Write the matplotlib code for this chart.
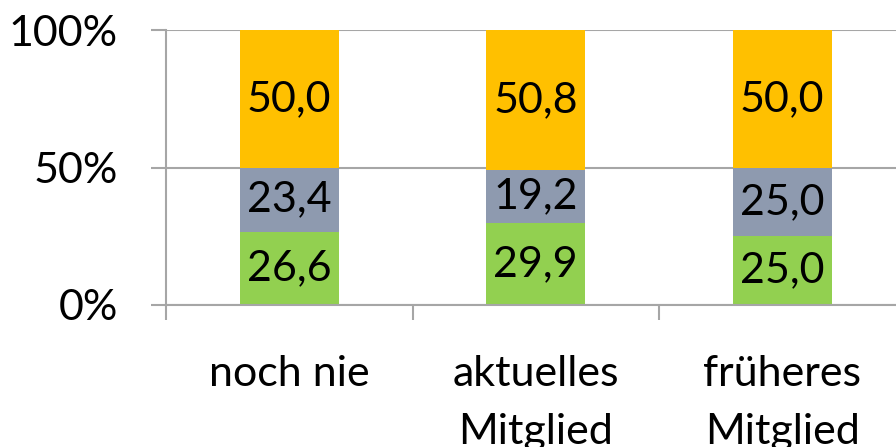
import numpy as np
import matplotlib
matplotlib.use("Agg")
import matplotlib.pyplot as plt

# Data (shares in %)
categories = ["noch nie", "aktuelles\nMitglied", "früheres\nMitglied"]
green_vals = [26.6, 29.9, 25.0]
gray_vals = [23.4, 19.2, 25.0]
orange_vals = [50.0, 50.8, 50.0]
ytick_vals = [0, 50, 100]
ytick_labels = ["0%", "50%", "100%"]

GREEN = "#92D050"
GRAY = "#8E9AAF"
ORANGE = "#FFC000"
GRID = "#A6A6A6"

plt.rcParams["font.family"] = ["Lato", "DejaVu Sans"]
FS = 31

fig = plt.figure(figsize=(8.96, 4.47), dpi=100)
ax = fig.add_axes([166 / 896, 142 / 447, 739.5 / 896, 275 / 447])

x = np.arange(len(categories))
series = [np.array(green_vals), np.array(gray_vals), np.array(orange_vals)]
total = sum(series)
colors = [GREEN, GRAY, ORANGE]

bottom = np.zeros(len(categories))
for vals, col in zip(series, colors):
    h = vals / total * 100  # 100% stacked
    ax.bar(x, h, 0.4, bottom=bottom, color=col, edgecolor="none", zorder=2)
    for xi, b, hi, v in zip(x, bottom, h, vals):
        ax.text(xi, b + hi / 2, f"{v:.1f}".replace(".", ","), ha="center",
                va="center", fontsize=FS, color="black", zorder=3)
    bottom = bottom + h

ax.set_xlim(-0.5, 2.5)
ax.set_ylim(0, 100)

ax.set_yticks(ytick_vals)
ax.set_yticklabels(ytick_labels, fontsize=FS)
ax.yaxis.grid(True, color=GRID, linewidth=1.5, zorder=0)
ax.tick_params(axis="y", length=10.8, width=1.5, color=GRID, pad=24)
for lbl in ax.get_yticklabels():
    lbl.set_y(lbl.get_position()[1])
    lbl.set_va("center_baseline")

ax.set_xticks(x)
ax.set_xticklabels(categories, fontsize=FS, linespacing=1.65, va="top")
ax.set_xticks([-0.5, 0.5, 1.5, 2.5], minor=True)
ax.tick_params(axis="x", which="major", length=0, pad=36)
ax.tick_params(axis="x", which="minor", length=10.8, width=1.5, color=GRID)

for s in ["top", "right"]:
    ax.spines[s].set_visible(False)
for s in ["left", "bottom"]:
    ax.spines[s].set_color(GRID)
    ax.spines[s].set_linewidth(1.5)
ax.set_axisbelow(True)

fig.savefig("out.png", dpi=100)
